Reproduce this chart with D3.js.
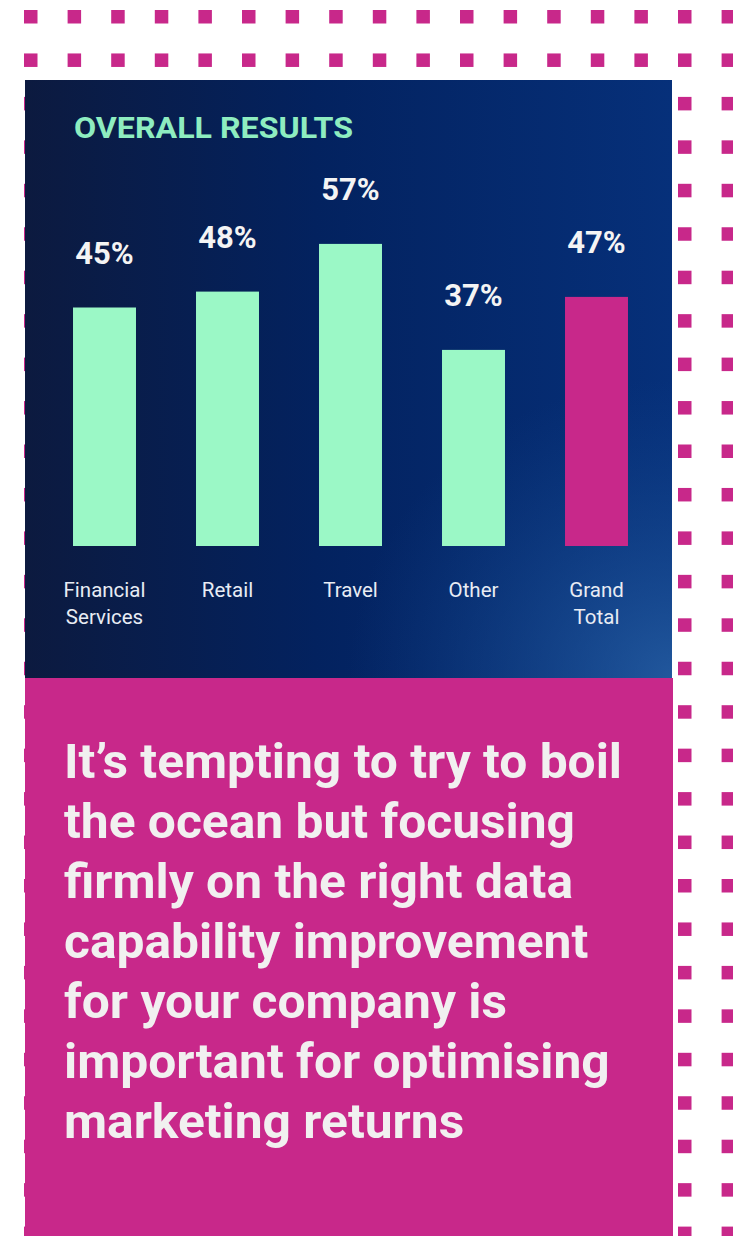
<!DOCTYPE html>
<html>
<head>
<meta charset="utf-8">
<script src="https://cdn.jsdelivr.net/npm/d3@7"></script>
<style>
  body { margin: 0; background: #fff; }
  svg { display: block; }
</style>
</head>
<body>
<svg id="chart" width="733" height="1236"></svg>
<script>
// chart values
const categories = ["Financial Services", "Retail", "Travel", "Other", "Grand Total"];
const values = [45, 48, 57, 37, 47];
const highlight = ["Grand Total"];
const title = "OVERALL RESULTS";
const quoteLines = [
  "It\u2019s tempting to try to boil",
  "the ocean but focusing",
  "firmly on the right data",
  "capability improvement",
  "for your company is",
  "important for optimising",
  "marketing returns"
];

const pink = "#c8288a";
const mint = "#9bf8c6";

const svg = d3.select("#chart");
const W = +svg.attr("width"), H = +svg.attr("height");

// gradient for dark panel
const defs = svg.append("defs");
const lg = defs.append("linearGradient").attr("id", "panelGrad")
  .attr("x1", "0%").attr("y1", "0%").attr("x2", "100%").attr("y2", "0%");
lg.append("stop").attr("offset", "0%").attr("stop-color", "#0c1a3f");
lg.append("stop").attr("offset", "45%").attr("stop-color", "#03225f");
lg.append("stop").attr("offset", "100%").attr("stop-color", "#06307a");
const rg = defs.append("radialGradient").attr("id", "glow")
  .attr("cx", "100%").attr("cy", "100%").attr("r", "50%");
rg.append("stop").attr("offset", "0%").attr("stop-color", "#2a64a8").attr("stop-opacity", 0.75);
rg.append("stop").attr("offset", "100%").attr("stop-color", "#154a92").attr("stop-opacity", 0);

// dotted background
const cols = d3.range(17), rows = d3.range(29);
svg.append("g").selectAll("rect")
  .data(d3.cross(cols, rows))
  .join("rect")
  .attr("x", d => 24 + d[0] * 43.6)
  .attr("y", d => 10 + d[1] * 43.45)
  .attr("width", 13.5)
  .attr("height", 13.5)
  .attr("fill", pink);

// panels
svg.append("rect").attr("x", 25).attr("y", 80).attr("width", 647).attr("height", 598)
  .attr("fill", "url(#panelGrad)");
svg.append("rect").attr("x", 25).attr("y", 80).attr("width", 647).attr("height", 598)
  .attr("fill", "url(#glow)");
svg.append("rect").attr("x", 25).attr("y", 678).attr("width", 648).attr("height", H - 678)
  .attr("fill", pink);

// title
svg.append("text")
  .attr("x", 74).attr("y", 138)
  .attr("font-family", "Roboto, sans-serif")
  .attr("font-weight", 700)
  .attr("font-size", 29.5)
  .attr("fill", "#8eedc0")
  .attr("textLength", 279)
  .attr("lengthAdjust", "spacingAndGlyphs")
  .text(title);

// scales
const x = d3.scaleBand().domain(categories).range([43, 658])
  .paddingInner(0.488).paddingOuter(0.244);
const y = d3.scaleLinear().domain([0, 100]).range([546, 16]);

const data = categories.map((c, i) => ({ cat: c, val: values[i] }));

const g = svg.append("g");
g.selectAll("rect.bar")
  .data(data)
  .join("rect")
  .attr("class", "bar")
  .attr("x", d => x(d.cat))
  .attr("y", d => y(d.val))
  .attr("width", x.bandwidth())
  .attr("height", d => y(0) - y(d.val))
  .attr("fill", d => highlight.includes(d.cat) ? pink : mint);

// value labels
g.selectAll("text.val")
  .data(data)
  .join("text")
  .attr("class", "val")
  .attr("x", d => x(d.cat) + x.bandwidth() / 2)
  .attr("y", d => y(d.val) - 44)
  .attr("text-anchor", "middle")
  .attr("font-family", "Roboto, sans-serif")
  .attr("font-weight", 700)
  .attr("font-size", 31)
  .attr("fill", "#f4f4f4")
  .text(d => d.val + "%");

// category labels (two lines where needed)
const catLabels = g.selectAll("text.cat")
  .data(data)
  .join("text")
  .attr("class", "cat")
  .attr("text-anchor", "middle")
  .attr("font-family", "Roboto, sans-serif")
  .attr("font-size", 20.5)
  .attr("fill", "#e8ecf4");
catLabels.each(function(d) {
  const cx = x(d.cat) + x.bandwidth() / 2;
  d.cat.split(" ").forEach((w, i) => {
    d3.select(this).append("tspan")
      .attr("x", cx)
      .attr("y", 597 + i * 27)
      .text(w);
  });
});

// quote text
const q = svg.append("g");
const qt = q.selectAll("text")
  .data(quoteLines)
  .join("text")
  .attr("x", 0)
  .attr("y", (d, i) => 778 + i * 60)
  .attr("font-family", "Roboto, sans-serif")
  .attr("font-weight", 700)
  .attr("font-size", 48)
  .attr("fill", "#f1f0f0")
  .text(d => d);
const firstLen = qt.node().getComputedTextLength();
const sx = 558 / firstLen;
q.attr("transform", `translate(64,0) scale(${sx},1)`);
</script>
</body>
</html>
